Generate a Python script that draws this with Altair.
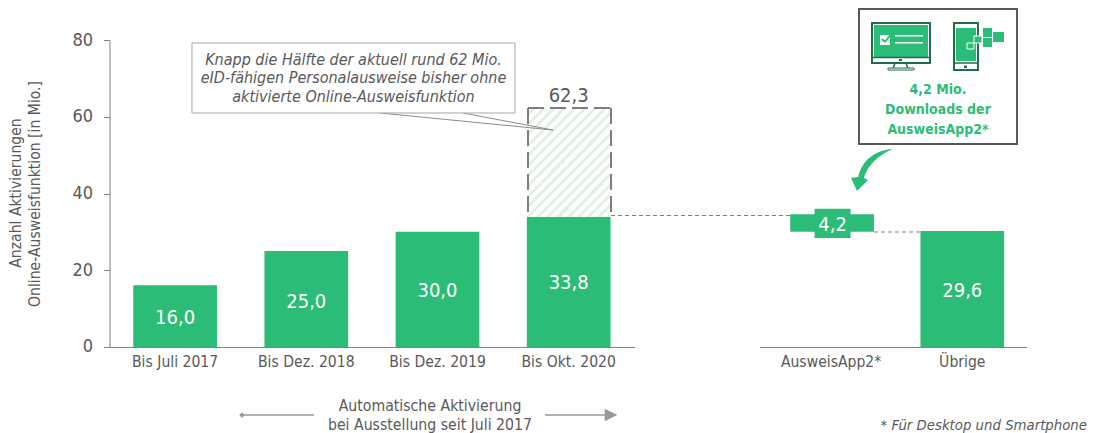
import altair as alt
import pandas as pd

FONT = "DejaVu Sans Condensed"
GREEN = "#2bbd77"
DARK = "#1f6e4a"
GREY = "#595959"
LINE = "#a6a6a6"

slots = ["Bis Juli 2017", "Bis Dez. 2018", "Bis Dez. 2019", "Bis Okt. 2020", " ", "AusweisApp2*", "Übrige"]
solid_cats = ["Bis Juli 2017", "Bis Dez. 2018", "Bis Dez. 2019", "Bis Okt. 2020", "Übrige"]
solid_vals = [16.1, 25.0, 30.0, 33.9, 30.2]
solid_labels = ["16,0", "25,0", "30,0", "33,8", "29,6"]
label_pos = [7.5, 11.8, 14.6, 16.8, 14.5]

df = pd.DataFrame({"cat": solid_cats, "val": solid_vals, "lab": solid_labels, "pos": label_pos})
df_total = pd.DataFrame({"cat": ["Bis Okt. 2020"], "lo": [33.9], "hi": [62.4], "lab": ["62,3"]})
df_float = pd.DataFrame({"cat": ["AusweisApp2*"], "lo": [30.0], "hi": [34.6], "lab": ["4,2"], "mid": [31.8]})
df_float2 = pd.DataFrame({"cat": ["AusweisApp2*"], "lo": [28.4], "hi": [36.0]})

xs = alt.Scale(domain=slots, paddingInner=0.362, paddingOuter=0.181)
ys = alt.Scale(domain=[0, 80], nice=False)
x_axis = alt.Axis(labelAngle=0, labelFontSize=15.6, labelColor=GREY, labelFont=FONT,
                  ticks=False, domain=False, grid=False, labelPadding=8)
y_axis = alt.Axis(values=[0, 20, 40, 60, 80], grid=False, labelFontSize=18, labelColor=GREY,
                  labelFont=FONT, tickColor="#7f7f7f", domainColor="#7f7f7f", tickSize=6,
                  labelPadding=11)
X = alt.X("cat:N", scale=xs, sort=slots, title=None, axis=x_axis)


def Yn(f):
    return alt.Y(f, scale=ys, title=None, axis=y_axis)


stops = []
n = 19
for i in range(n):
    stops += [alt.GradientStop(offset=i / n, color="#ffffff"),
              alt.GradientStop(offset=(i + 0.6) / n, color="#ffffff"),
              alt.GradientStop(offset=(i + 0.6) / n, color="#dff3e2"),
              alt.GradientStop(offset=(i + 1) / n, color="#dff3e2")]
hatch = alt.LinearGradient(gradient="linear", x1=0, y1=0, x2=0.857, y2=1.113, stops=stops)

hatched = alt.Chart(df_total).mark_bar(fill=hatch).encode(x=X, y=Yn("lo:Q"), y2="hi:Q")
solid = alt.Chart(df).mark_bar(color=GREEN).encode(x=X, y=Yn("val:Q"))
labels = alt.Chart(df).mark_text(color="white", fontSize=20, font=FONT).encode(
    x=X, y=Yn("pos:Q"), text="lab:N")
total_label = alt.Chart(df_total).mark_text(color=GREY, fontSize=20, font=FONT, baseline="bottom", dy=-2).encode(
    x=X, y=Yn("hi:Q"), text="lab:N")
floating = alt.Chart(df_float).mark_bar(color=GREEN, xOffset=1).encode(x=X, y=Yn("lo:Q"), y2="hi:Q")
floating2 = alt.Chart(df_float2).mark_bar(color=GREEN, size=36, xOffset=1.5).encode(x=X, y=Yn("lo:Q"), y2="hi:Q")
float_label = alt.Chart(df_float).mark_text(color="white", fontSize=20, font=FONT, dx=1.5).encode(
    x=X, y=Yn("mid:Q"), text="lab:N")

OX, OY = 109.5, 40  # plot-area origin on the page


def rect(x0, y0, x1, y1, fill, stroke=None, sw=1):
    kw = {"fill": fill}
    if stroke:
        kw.update(stroke=stroke, strokeWidth=sw)
    return alt.Chart(pd.DataFrame({"a": [0]})).mark_rect(**kw).encode(
        x=alt.value(x0 - OX), x2=alt.value(x1 - OX), y=alt.value(y0 - OY), y2=alt.value(y1 - OY))


def seg(x0, y0, x1, y1, color=LINE, sw=1, dash=None):
    kw = {"color": color, "strokeWidth": sw}
    if dash:
        kw["strokeDash"] = dash
    return alt.Chart(pd.DataFrame({"a": [0]})).mark_rule(**kw).encode(
        x=alt.value(x0 - OX), x2=alt.value(x1 - OX), y=alt.value(y0 - OY), y2=alt.value(y1 - OY))


def txt(x, y, s, size=14, color=GREY, align="center", style="normal", weight="normal"):
    return alt.Chart(pd.DataFrame({"a": [0]})).mark_text(
        text=s, fontSize=size, color=color, align=align, baseline="middle",
        fontStyle=style, fontWeight=weight, font=FONT).encode(x=alt.value(x - OX), y=alt.value(y - OY))


def shape(x, y, path, size, color):
    return alt.Chart(pd.DataFrame({"a": [0]})).mark_point(
        shape=path, size=size, filled=True, color=color, opacity=1).encode(
        x=alt.value(x - OX), y=alt.value(y - OY))


base_lines = [
    seg(109, 347.5, 635, 347.5, color="#7f7f7f"),
    seg(760, 347.5, 1027, 347.5, color="#7f7f7f"),
]
deco = [
    # dashed outline of the total bar
    seg(528, 108, 611, 108, color="#7f7f7f", sw=2, dash=[16, 6]),
    seg(528, 108, 528, 214, color="#7f7f7f", sw=2, dash=[16, 6]),
    seg(611, 108, 611, 214, color="#7f7f7f", sw=2, dash=[16, 6]),
    # callout
    seg(380, 113, 553, 130, color="#8c8c8c"),
    seg(463, 113, 553, 130, color="#8c8c8c"),
    rect(192, 43, 515, 113, "white", LINE, 1),
    txt(353.5, 60, "Knapp die Hälfte der aktuell rund 62 Mio.", 16, GREY, style="italic"),
    txt(353.5, 78, "eID-fähigen Personalausweise bisher ohne", 16, GREY, style="italic"),
    txt(353.5, 97, "aktivierte Online-Ausweisfunktion", 16, GREY, style="italic"),
    # connectors
    seg(611, 215.5, 791, 215.5, color="#7f7f7f", dash=[4, 3]),
    seg(874, 232, 920, 232, color="#7f7f7f", dash=[4, 3]),
    # info box
    rect(859, 9, 1017, 144, "white", "#595959", 2),
    rect(872, 23, 930, 63, "white", DARK, 2),
    rect(874, 25, 928, 57, GREEN),
    seg(871, 57.5, 931, 57.5, color=DARK, sw=1.5),
    rect(899, 59, 902, 61, DARK),
    seg(895, 63, 893, 69, color=DARK, sw=1.5),
    seg(906, 63, 908, 69, color=DARK, sw=1.5),
    rect(888, 68, 914, 70, "white", DARK, 1),
    rect(880, 35, 890, 45, "white"),
    seg(882, 39, 885, 42, color=GREEN, sw=2),
    seg(885, 42, 891, 34, color=GREEN, sw=2),
    rect(895, 35, 923, 36.5, "white"),
    rect(895, 42, 923, 43.5, "white"),
    rect(954, 23, 978, 70, "white", DARK, 2),
    rect(956, 28, 976, 61, GREEN),
    seg(954, 63, 978, 63, color=DARK, sw=1.5),
    rect(964, 65.5, 967, 68, DARK),
    rect(983, 28, 992, 37, GREEN),
    rect(993, 32, 1004, 42, GREEN),
    rect(983, 38, 992, 47, GREEN),
    rect(974, 36, 982, 43, GREEN, "white", 1),
    rect(967, 43, 974, 49, GREEN, "white", 1),
    txt(938, 90, "4,2 Mio.", 14, GREEN, weight="bold"),
    txt(938, 110, "Downloads der", 14, GREEN, weight="bold"),
    txt(938, 130, "AusweisApp2*", 14, GREEN, weight="bold"),
    # curved arrow
    shape(872, 170,
          "M1,-1 C0.4,-0.95 -0.4,-0.7 -0.66,0.33 L-1,0.38 L-0.71,1 L-0.19,0.48 L-0.39,0.38 "
          "C-0.2,-0.25 0.35,-0.75 1,-1 Z", 1764, GREEN),
    # bottom note
    txt(430, 406, "Automatische Aktivierung", 15.7),
    txt(430, 425, "bei Ausstellung seit Juli 2017", 15.7),
    seg(242, 415, 314, 415, color="#999999", sw=1.5),
    shape(242, 415, "diamond", 30, "#999999"),
    seg(545, 415, 606, 415, color="#999999", sw=1.5),
    shape(611, 415, "M-1,-1 L1,0 L-1,1 Z", 160, "#999999"),
    # footnote
    txt(1087, 426, "* Für Desktop und Smartphone", 14.8, GREY, align="right", style="italic"),
]
ytitle = alt.Chart(pd.DataFrame({"a": [0]})).mark_text(
    text="Anzahl Aktivierungen", fontSize=15.6, color=GREY, angle=270, font=FONT).encode(
    x=alt.value(16 - OX), y=alt.value(193 - OY))
ytitle2 = alt.Chart(pd.DataFrame({"a": [0]})).mark_text(
    text="Online-Ausweisfunktion [in Mio.]", fontSize=15.6, color=GREY, angle=270, font=FONT).encode(
    x=alt.value(35 - OX), y=alt.value(194 - OY))

chart = alt.layer(
    *base_lines, hatched, solid, labels, total_label, floating, floating2, float_label,
    *deco, ytitle, ytitle2
).properties(
    width=918.4, height=307,
    autosize=alt.AutoSizeParams(type="none"),
    padding={"left": OX - 8, "top": OY - 8, "right": 65, "bottom": 86},
    background="white",
).configure_view(stroke=None)

chart.save("out.html", embed_options={"renderer": "svg", "actions": False})
